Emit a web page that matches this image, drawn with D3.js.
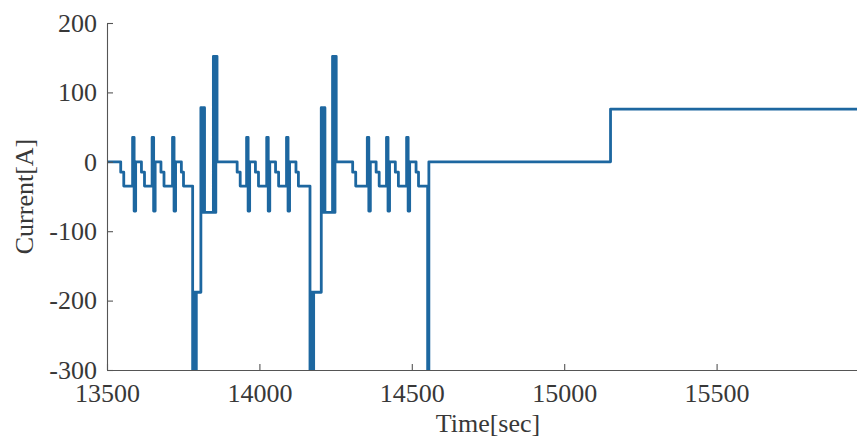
<!DOCTYPE html>
<html>
<head>
<meta charset="utf-8">
<script src="https://cdn.jsdelivr.net/npm/d3@7"></script>
<style>
  html, body { margin: 0; padding: 0; background: #fff; }
  svg { display: block; }
</style>
</head>
<body>
<svg id="chart" width="857" height="439"></svg>
<script>
// Battery current profile: breakpoints of a step signal (value holds until the next time)
const time = [
  13500, 13545, 13555,
  13584, 13589, 13594, 13613, 13623,
  13648, 13653, 13658, 13677, 13687,
  13715, 13720, 13725, 13744, 13751,
  13781, 13785, 13789, 13793,
  13808, 13812, 13816, 13820,
  13849, 13853, 13857, 13861,
  13927, 13937,
  13958, 13963, 13968, 13987, 13997,
  14024, 14029, 14034, 14053, 14063,
  14089, 14094, 14099, 14120, 14128,
  14166, 14170, 14174, 14178,
  14203, 14207, 14211, 14215,
  14240, 14244, 14248, 14252,
  14306, 14316,
  14354, 14359, 14364, 14383, 14393,
  14417, 14422, 14427, 14446, 14456,
  14483, 14488, 14493, 14514, 14522,
  14552, 14556,
  15152, 16000
];
const current = [
  0, -15, -35,
  35, -71, 0, -15, -35,
  35, -71, 0, -15, -35,
  35, -71, 0, -15, -35,
  -400, -188, -400, -188,
  78, -73, 78, -73,
  152, -73, 152, 0,
  -15, -35,
  35, -71, 0, -15, -35,
  35, -71, 0, -15, -35,
  35, -71, 0, -15, -35,
  -400, -188, -400, -188,
  78, -73, 78, -73,
  152, -73, 152, 0,
  -15, -35,
  35, -71, 0, -15, -35,
  35, -71, 0, -15, -35,
  35, -71, 0, -15, -35,
  -400, 0,
  76, 76
];

const xDomain = [13500, 16000];
const yDomain = [-300, 200];
const xTickValues = [13500, 14000, 14500, 15000, 15500];
const yTickValues = [200, 100, 0, -100, -200, -300];
const xLabel = "Time[sec]";
const yLabel = "Current[A]";

const serif = "'Liberation Serif', 'Times New Roman', Times, serif";
const textColor = "#383838";

const svg = d3.select("#chart").attr("font-family", serif);
const plot = { left: 107, right: 869, top: 23, bottom: 370 };

const x = d3.scaleLinear().domain(xDomain).range([plot.left, plot.right]);
const y = d3.scaleLinear().domain(yDomain).range([plot.bottom, plot.top]);

svg.append("rect").attr("width", 857).attr("height", 439).attr("fill", "#fff");

// keep the trace inside the axes box
svg.append("defs").append("clipPath").attr("id", "plot-clip")
  .append("rect")
  .attr("x", plot.left).attr("y", 0)
  .attr("width", plot.right - plot.left + 20).attr("height", plot.bottom);

const points = time.map((t, i) => [t, current[i]]);
const line = d3.line()
  .x(d => x(d[0]))
  .y(d => y(d[1]))
  .curve(d3.curveStepAfter);

svg.append("path")
  .datum(points)
  .attr("clip-path", "url(#plot-clip)")
  .attr("fill", "none")
  .attr("stroke", "#1d67a0")
  .attr("stroke-width", 2.8)
  .attr("stroke-linejoin", "round")
  .attr("stroke-linecap", "round")
  .attr("d", line);

// axes with inward ticks
const fmt = d => String(d);
const xAxis = svg.append("g")
  .attr("transform", `translate(0,${plot.bottom})`)
  .call(d3.axisBottom(x).tickValues(xTickValues).tickFormat(fmt)
    .tickSizeInner(-6).tickSizeOuter(0).tickPadding(14));
const yAxis = svg.append("g")
  .attr("transform", `translate(${plot.left},0)`)
  .call(d3.axisLeft(y).tickValues(yTickValues).tickFormat(fmt)
    .tickSizeInner(-6).tickSizeOuter(0).tickPadding(10));

[xAxis, yAxis].forEach(g => {
  g.attr("font-family", serif).attr("font-size", 26);
  g.select(".domain").attr("stroke", "#555").attr("stroke-width", 1.1);
  g.selectAll(".tick line").attr("stroke", "#555").attr("stroke-width", 1.1);
  g.selectAll(".tick text")
    .attr("fill", textColor)
    .attr("font-family", serif)
    .attr("font-size", 26);
});

svg.append("text")
  .attr("x", (plot.left + plot.right) / 2)
  .attr("y", 432)
  .attr("text-anchor", "middle")
  .attr("fill", textColor)
  .attr("font-family", serif)
  .attr("font-size", 26)
  .text(xLabel);

svg.append("text")
  .attr("transform", `translate(33,${(plot.top + plot.bottom) / 2}) rotate(-90)`)
  .attr("text-anchor", "middle")
  .attr("fill", textColor)
  .attr("font-family", serif)
  .attr("font-size", 26)
  .text(yLabel);
</script>
</body>
</html>
